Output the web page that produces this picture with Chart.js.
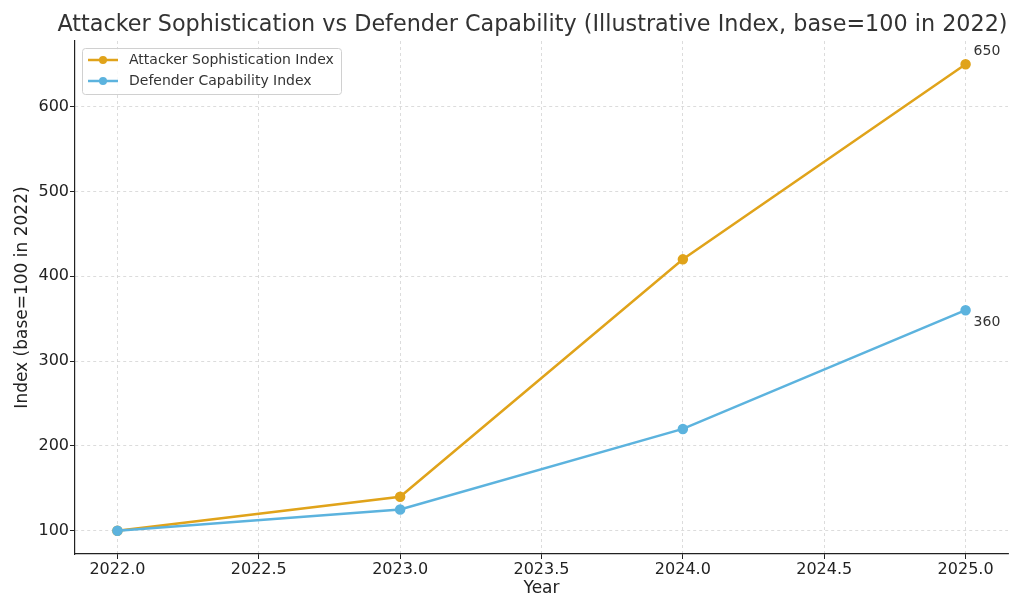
<!DOCTYPE html>
<html>
<head>
<meta charset="utf-8">
<script src="https://cdn.jsdelivr.net/npm/chart.js@4.4.1/dist/chart.umd.min.js"></script>
<style>
  html, body { margin: 0; padding: 0; background: #fff; }
  #wrap { width: 1024px; height: 614px; }
</style>
</head>
<body>
<div id="wrap"><canvas id="idxChart" width="1024" height="614"></canvas></div>
<script>
const years = [2022, 2023, 2024, 2025];
const attackerIdx = [100, 140, 420, 650];
const defenderIdx = [100, 125, 220, 360];
const xTicks = [2022.0, 2022.5, 2023.0, 2023.5, 2024.0, 2024.5, 2025.0];
const yTicks = [100, 200, 300, 400, 500, 600];

const attackerColor = '#e0a31a';
const defenderColor = '#5cb3de';
const fontFam = 'DejaVu Sans, sans-serif';

const toPoints = (arr) => arr.map((v, i) => ({ x: years[i], y: v }));

// title, legend and end labels drawn on the canvas
const extras = {
    id: 'extras',
    afterDraw(chart) {
        const { ctx, chartArea, scales } = chart;
        ctx.save();
        // title
        ctx.fillStyle = '#333';
        ctx.font = '22.3px ' + fontFam;
        ctx.textAlign = 'center';
        ctx.textBaseline = 'middle';
        ctx.fillText('Attacker Sophistication vs Defender Capability (Illustrative Index, base=100 in 2022)',
            (chartArea.left + chartArea.right) / 2 - 9, 25);

        // end labels
        ctx.font = '14px ' + fontFam;
        ctx.textAlign = 'left';
        const last = years.length - 1;
        const xe = scales.x.getPixelForValue(years[last]);
        ctx.fillText(String(attackerIdx[last]), xe + 8, scales.y.getPixelForValue(attackerIdx[last]) - 13);
        ctx.fillText(String(defenderIdx[last]), xe + 8, scales.y.getPixelForValue(defenderIdx[last]) + 12);

        // legend
        const lx = 82, ly = 48, lw = 259, lh = 46;
        ctx.fillStyle = 'rgba(255,255,255,0.85)';
        ctx.strokeStyle = '#d0d0d0';
        ctx.lineWidth = 1;
        ctx.beginPath();
        ctx.roundRect(lx + 0.5, ly + 0.5, lw, lh, 3);
        ctx.fill();
        ctx.stroke();
        const items = [['Attacker Sophistication Index', attackerColor], ['Defender Capability Index', defenderColor]];
        items.forEach((it, i) => {
            const yy = ly + 12 + i * 21;
            ctx.strokeStyle = it[1];
            ctx.lineWidth = 2.5;
            ctx.beginPath();
            ctx.moveTo(lx + 6, yy);
            ctx.lineTo(lx + 36, yy);
            ctx.stroke();
            ctx.fillStyle = it[1];
            ctx.beginPath();
            ctx.arc(lx + 21, yy, 4, 0, Math.PI * 2);
            ctx.fill();
            ctx.fillStyle = '#333';
            ctx.font = '14px ' + fontFam;
            ctx.textBaseline = 'middle';
            ctx.fillText(it[0], lx + 47, yy);
        });
        ctx.restore();
    }
};

const gridOpts = {
    color: '#d4d4d4',
    lineWidth: 0.8,
    tickColor: '#222',
    tickLength: 5,
    tickBorderDash: [],
    tickWidth: 1,
};

const ctx = document.getElementById('idxChart').getContext('2d');
new Chart(ctx, {
    type: 'line',
    data: {
        datasets: [{
                label: 'Attacker Sophistication Index',
                data: toPoints(attackerIdx),
                borderColor: attackerColor,
                backgroundColor: attackerColor,
                borderWidth: 2.5,
                pointRadius: 4,
                pointHoverRadius: 4,
                tension: 0,
                fill: false,
                order: 1,
            },
            {
                label: 'Defender Capability Index',
                data: toPoints(defenderIdx),
                borderColor: defenderColor,
                backgroundColor: defenderColor,
                borderWidth: 2.5,
                pointRadius: 4,
                pointHoverRadius: 4,
                tension: 0,
                fill: false,
                order: 0,
            }
        ]
    },
    options: {
        responsive: false,
        animation: false,
        layout: { padding: { top: 41, right: 16, left: 0, bottom: 0 } },
        plugins: {
            legend: { display: false },
            title: { display: false },
            tooltip: { enabled: false },
        },
        scales: {
            x: {
                type: 'linear',
                min: 2021.85,
                max: 2025.15,
                afterFit(scale) { scale.height = 60; },
                afterBuildTicks(scale) { scale.ticks = xTicks.map(v => ({ value: v })); },
                border: { display: true, color: '#222', width: 1.2, dash: [3, 3] },
                grid: gridOpts,
                ticks: {
                    color: '#222',
                    font: { family: fontFam, size: 16 },
                    padding: 1,
                    maxRotation: 0,
                    callback: (v) => Number(v).toFixed(1),
                },
                title: {
                    display: true,
                    text: 'Year',
                    color: '#222',
                    font: { family: fontFam, size: 17 },
                    padding: { top: 2, bottom: 15 },
                },
            },
            y: {
                min: 72.5,
                max: 677.5,
                afterFit(scale) { scale.width = 75; },
                afterBuildTicks(scale) { scale.ticks = yTicks.map(v => ({ value: v })); },
                border: { display: true, color: '#222', width: 1.2, dash: [3, 3] },
                grid: gridOpts,
                ticks: {
                    color: '#222',
                    font: { family: fontFam, size: 16 },
                    padding: 1,
                },
                title: {
                    display: true,
                    text: 'Index (base=100 in 2022)',
                    color: '#222',
                    font: { family: fontFam, size: 17 },
                    padding: { top: 12, bottom: 4 },
                },
            },
        },
    },
    plugins: [extras],
});
</script>
</body>
</html>
